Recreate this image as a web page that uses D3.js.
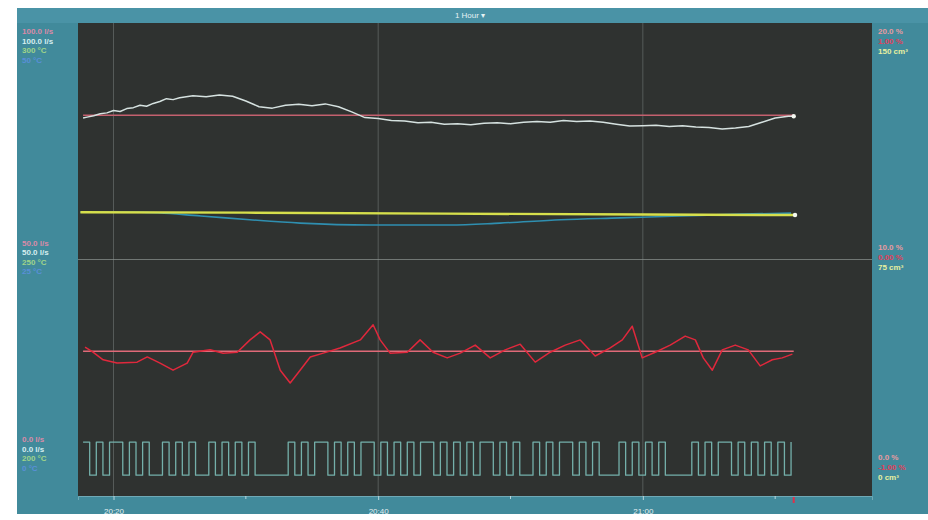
<!DOCTYPE html>
<html>
<head>
<meta charset="utf-8">
<script src="https://cdn.jsdelivr.net/npm/d3@7"></script>
<style>
	html, body { margin: 0; background: #fff; overflow: hidden; }
	svg { display: block; font-family: "Liberation Sans", sans-serif; }
</style>
</head>
<body>
<div id="chart"></div>
<script>
"use strict";

//  Data (time in minutes after 20:00, values in % of full scale)
const flowTimes = [17.7, 18, 18.5, 19, 19.5, 20, 20.5, 21, 21.5, 22, 22.5, 23, 23.5, 24, 24.5, 25, 26, 27, 28, 29, 30, 31, 32, 33, 34, 35, 36, 37, 38, 39, 40, 41, 42, 43, 44, 45, 46, 47, 48, 49, 50, 51, 52, 53, 54, 55, 56, 57, 58, 59, 60, 61, 62, 63, 64, 65, 66, 67, 68, 69, 70, 71, 71.4];
const flowValues = [79.9, 80.1, 80.4, 80.8, 81.0, 81.5, 81.3, 81.9, 82.1, 82.6, 82.4, 83.0, 83.4, 84.0, 83.8, 84.2, 84.6, 84.4, 84.8, 84.5, 83.5, 82.3, 82.0, 82.6, 82.8, 82.5, 82.9, 82.3, 81.2, 80.0, 79.8, 79.4, 79.3, 78.9, 79.0, 78.6, 78.7, 78.5, 78.8, 78.9, 78.7, 79.0, 79.2, 79.0, 79.4, 79.2, 79.3, 79.0, 78.6, 78.2, 78.3, 78.4, 78.1, 78.3, 78.0, 77.9, 77.6, 77.8, 78.1, 79.0, 79.9, 80.3, 80.3];

const flowSetpoint = 80.5;
const pressureSetpoint = 30.6;

const volumeTimes = [17.5, 30, 45, 60, 71.5];
const volumeValues = [60.0, 59.9, 59.7, 59.5, 59.4];

const tempTimes = [17.5, 22.0, 26.6, 30.3, 34.1, 39.4, 45.4, 49.2, 53.8, 58.3, 62.8, 67.4, 71.2];
const tempValues = [60.0, 60.0, 59.2, 58.4, 57.7, 57.3, 57.3, 57.7, 58.4, 58.8, 59.2, 59.6, 59.8];

const pressureTimes = [17.86, 18.46, 19.22, 20.28, 21.79, 22.55, 23.53, 24.51, 25.57, 26.02, 27.31, 28.29, 29.35, 30.33, 31.09, 31.84, 32.60, 33.35, 34.11, 34.87, 35.85, 37.13, 38.65, 39.63, 40.16, 40.91, 42.20, 43.18, 44.16, 45.22, 46.20, 47.34, 48.47, 49.60, 50.74, 51.87, 53.01, 54.14, 55.27, 56.41, 57.54, 58.45, 59.20, 59.96, 60.94, 62.08, 63.21, 63.97, 64.57, 65.25, 66.01, 66.99, 67.97, 68.88, 69.79, 70.54, 71.30];
const pressureValues = [31.5, 30.4, 28.8, 28.1, 28.3, 29.4, 28.1, 26.6, 28.1, 30.4, 30.9, 30.2, 30.4, 33.0, 34.7, 33.0, 26.6, 23.9, 26.6, 29.4, 30.2, 31.3, 33.0, 36.2, 33.0, 30.2, 30.4, 33.0, 30.4, 29.2, 30.2, 31.9, 29.2, 30.9, 32.1, 28.3, 30.4, 31.9, 33.0, 29.6, 31.3, 33.0, 35.9, 29.2, 30.4, 31.9, 33.8, 33.0, 29.2, 26.6, 30.9, 31.9, 30.9, 27.5, 28.8, 29.2, 30.0];

const pulseStart = 17.7, pulseStep = 0.5;
const pulseStates = [
	1, 0, 1, 0, 1, 1, 0, 1, 0, 1, 0, 0,
	1, 0, 1, 0, 1, 0, 0, 1, 0, 1, 0, 1, 0, 1, 0,
	0, 0, 0, 0,
	1, 0, 1, 0, 1, 1, 0, 1, 0, 1, 0, 1, 1, 0, 1, 0, 1, 0, 1, 0, 1, 1, 0, 1, 0, 1, 0, 1, 0, 1, 1, 0, 1, 0, 1,
	0, 0,
	1, 0, 1, 0, 1, 1, 0, 1, 0, 1, 0,
	0, 0,
	1, 0, 1, 0, 1, 0, 1, 0,
	0, 0, 0,
	1, 0, 1, 0, 1, 1, 0, 1, 0, 1, 0, 1, 0, 1, 0, 1
];
const pulseHigh = 11.4, pulseLow = 4.4;

const timeTicks = [20, 40, 60];
const minorTicks = [30, 50, 70];

const leftLabels = [
	['100.0 l/s', '100.0 l/s', '300 °C', '50 °C'],
	['50.0 l/s', '50.0 l/s', '250 °C', '25 °C'],
	['0.0 l/s', '0.0 l/s', '200 °C', '0 °C']
];
const rightLabels = [
	['20.0 %', '1.00 %', '150 cm³'],
	['10.0 %', '0.00 %', '75 cm³'],
	['0.0 %', '-1.00 %', '0 cm³']
];
const leftColours = ['#d98aa8', '#d6eef0', '#9fd48a', '#5a8fd8'];
const rightColours = ['#e89aa0', '#e0405a', '#e8f0a0'];

//  Layout
const width = 928, height = 520;
const frame = { left: 17, top: 8, right: 928, bottom: 514 };
const plot = { left: 78, top: 23, right: 872, bottom: 496 };

const toDate = m => new Date(2020, 0, 1, 20, 0, m * 60);

const x = d3.scaleTime()
	.domain([toDate(17.33), toDate(77.33)])
	.range([plot.left, plot.right]);

const y = d3.scaleLinear()
	.domain([0, 100])
	.range([plot.bottom, plot.top]);

const svg = d3.select('#chart').append('svg')
	.attr('width', width)
	.attr('height', height);

svg.append('rect')
	.attr('x', frame.left).attr('y', frame.top)
	.attr('width', frame.right - frame.left).attr('height', frame.bottom - frame.top)
	.attr('fill', '#418a9b');

svg.append('rect')
	.attr('x', frame.left).attr('y', frame.top)
	.attr('width', frame.right - frame.left).attr('height', plot.top - frame.top)
	.attr('fill', '#4a93a6');

svg.append('rect')
	.attr('x', plot.left).attr('y', plot.top)
	.attr('width', plot.right - plot.left).attr('height', plot.bottom - plot.top)
	.attr('fill', '#2f3230');

svg.append('text')
	.attr('x', 470).attr('y', 18)
	.attr('text-anchor', 'middle')
	.attr('font-size', 8)
	.attr('fill', '#e6f2f4')
	.text('1 Hour ▾');

//  Grid
svg.append('g').selectAll('line')
	.data(timeTicks)
	.join('line')
		.attr('x1', d => x(toDate(d))).attr('x2', d => x(toDate(d)))
		.attr('y1', plot.top).attr('y2', plot.bottom)
		.attr('stroke', '#7d8582').attr('stroke-width', 1).attr('opacity', 0.5);

svg.append('line')
	.attr('x1', plot.left).attr('x2', plot.right)
	.attr('y1', y(50)).attr('y2', y(50))
	.attr('stroke', '#8d9592').attr('stroke-width', 1).attr('opacity', 0.7);

//  Axis
const axis = svg.append('g')
	.attr('transform', `translate(0, ${plot.bottom})`)
	.call(d3.axisBottom(x)
		.tickValues(timeTicks.map(toDate))
		.tickFormat(d3.timeFormat('%H:%M'))
		.tickSize(4)
		.tickPadding(8));
axis.select('.domain').attr('stroke', '#6fa9b6');
axis.selectAll('.tick line').attr('stroke', '#b8d6dc');
axis.selectAll('.tick text').attr('fill', '#e2eef0').attr('font-size', 8);

svg.append('g').selectAll('line')
	.data(minorTicks)
	.join('line')
		.attr('x1', d => x(toDate(d))).attr('x2', d => x(toDate(d)))
		.attr('y1', plot.bottom).attr('y2', plot.bottom + 3)
		.attr('stroke', '#b8d6dc');

//  Series
const line = d3.line()
	.x(d => x(toDate(d[0])))
	.y(d => y(d[1]));

function drawSeries(times, values, colour, widthPx, curve)
{
	svg.append('path')
		.datum(times.map((t, i) => [t, values[i]]))
		.attr('d', line.curve(curve || d3.curveLinear))
		.attr('fill', 'none')
		.attr('stroke', colour)
		.attr('stroke-width', widthPx)
		.attr('stroke-linejoin', 'round');
}

const lastFlow = flowTimes[flowTimes.length - 1];

drawSeries([flowTimes[0], lastFlow], [flowSetpoint, flowSetpoint], '#c4606e', 1.3);
drawSeries(flowTimes, flowValues, '#d6e2e0', 1.5);

drawSeries(tempTimes, tempValues, '#2f8fb0', 1.6, d3.curveMonotoneX);
drawSeries(volumeTimes, volumeValues, '#d6df4c', 2.4);

drawSeries([flowTimes[0], lastFlow], [pressureSetpoint, pressureSetpoint], '#e06a78', 1.3);
drawSeries(pressureTimes, pressureValues, '#e0283c', 1.5);

const pulseTimes = pulseStates.map((s, i) => pulseStart + i * pulseStep);
drawSeries(pulseTimes, pulseStates.map(s => s ? pulseHigh : pulseLow), '#74b0aa', 1.3, d3.curveStepAfter);

svg.append('g').selectAll('circle')
	.data([[lastFlow, flowValues[flowValues.length - 1]], [volumeTimes[volumeTimes.length - 1], volumeValues[volumeValues.length - 1]]])
	.join('circle')
		.attr('cx', d => x(toDate(d[0])))
		.attr('cy', d => y(d[1]))
		.attr('r', 2.2)
		.attr('fill', '#f4f8f0');

//  Current time marker
svg.append('line')
	.attr('x1', x(toDate(lastFlow))).attr('x2', x(toDate(lastFlow)))
	.attr('y1', plot.bottom + 1).attr('y2', plot.bottom + 7)
	.attr('stroke', '#e0304a').attr('stroke-width', 2);

//  Scale labels
const groupTops = [y(100) + 11, y(50) - 14, y(0) - 54];
leftLabels.forEach((group, g) =>
	group.forEach((label, i) =>
		svg.append('text')
			.attr('x', 22).attr('y', groupTops[g] + i * 9.5)
			.attr('font-size', 8).attr('font-weight', 'bold')
			.attr('fill', leftColours[i])
			.text(label)));

const rightTops = [y(100) + 11, y(50) - 10, y(0) - 36];
rightLabels.forEach((group, g) =>
	group.forEach((label, i) =>
		svg.append('text')
			.attr('x', 878).attr('y', rightTops[g] + i * 10)
			.attr('font-size', 8).attr('font-weight', 'bold')
			.attr('fill', rightColours[i])
			.text(label)));
</script>
</body>
</html>
